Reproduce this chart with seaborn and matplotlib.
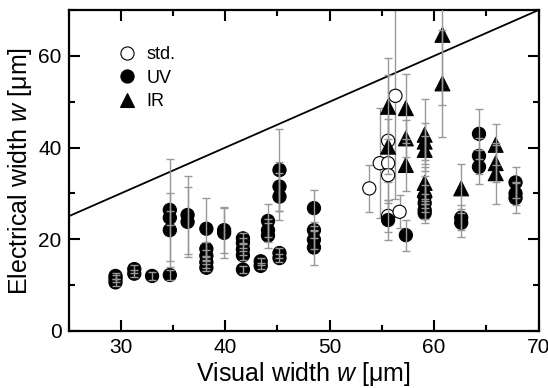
import numpy as np
import pandas as pd
import matplotlib
matplotlib.use("Agg")
import matplotlib.pyplot as plt
from matplotlib.ticker import MultipleLocator
import seaborn as sns

sns.set_theme(style="white")
plt.rcParams["font.family"] = ["Liberation Sans", "DejaVu Sans"]
plt.rcParams["mathtext.fontset"] = "custom"
plt.rcParams["mathtext.rm"] = "Liberation Sans"
plt.rcParams["mathtext.it"] = "Liberation Sans:italic"
plt.rcParams["text.color"] = "black"
plt.rcParams["axes.labelcolor"] = "black"

# ---- data ----
std_x = [53.8, 54.8, 55.6, 55.6, 55.6, 55.6, 56.3, 56.7]
std_y = [31.1, 36.6, 36.6, 41.5, 34.0, 25.1, 51.3, 26.0]
std_e = [5.2, 12.0, 4.0, 18.0, 6.0, 3.5, 22.5, 3.6]

uv_x = [29.5, 29.5, 29.5, 31.3, 31.3, 33.0,
        34.7, 34.7, 34.7, 34.7, 36.4, 36.4,
        38.2, 38.2, 38.2, 38.2, 38.2, 39.9, 39.9,
        41.7, 41.7, 41.7, 41.7, 41.7, 43.4, 43.4,
        44.1, 44.1, 44.1, 45.2, 45.2, 45.2, 45.2, 45.2,
        48.5, 48.5, 48.5, 48.5,
        55.6, 57.3, 59.1, 59.1, 59.1, 59.1, 62.6, 62.6,
        64.3, 64.3, 64.3, 67.8, 67.8, 67.8]
uv_y = [10.6, 11.4, 12.0, 12.5, 13.5, 12.0,
        12.2, 26.4, 24.7, 22.0, 25.3, 23.8,
        22.3, 17.9, 16.4, 15.0, 13.8, 22.0, 21.4,
        20.2, 19.2, 17.8, 16.5, 13.4, 15.2, 14.2,
        24.0, 22.0, 20.8, 35.1, 31.5, 29.3, 17.0, 15.9,
        26.8, 22.0, 19.9, 18.2,
        24.2, 20.9, 29.3, 27.9, 26.4, 25.7, 24.7, 23.6,
        43.0, 38.2, 35.8, 32.4, 30.0, 29.0]
uv_e = [0.8, 0.8, 0.7, 0.8, 0.9, 0.8,
        1.0, 11.1, 1.5, 8.0, 8.5, 7.6,
        6.8, 1.5, 1.2, 1.2, 0.8, 5.1, 5.5,
        1.2, 1.0, 1.3, 1.0, 0.8, 0.8, 0.7,
        3.6, 2.5, 2.7, 9.0, 5.4, 5.1, 1.0, 0.9,
        4.0, 1.8, 2.0, 3.9,
        4.3, 3.4, 2.5, 2.0, 2.0, 2.1, 2.7, 3.0,
        5.5, 4.0, 3.7, 3.4, 2.5, 3.3]

ir_x = [55.6, 55.6, 57.3, 57.3, 57.3, 59.1, 59.1, 59.1, 59.1, 59.1,
        60.8, 60.8, 62.6, 65.9, 65.9, 65.9]
ir_y = [48.9, 40.2, 48.6, 42.0, 36.2, 42.8, 41.3, 39.5, 32.3, 30.8,
        64.6, 54.0, 31.1, 40.6, 36.6, 34.4]
ir_e = [7.0, 6.0, 7.5, 4.0, 5.6, 7.8, 4.0, 3.0, 3.5, 3.0,
        15.3, 11.6, 5.3, 4.5, 4.0, 6.7]

line_x = [25, 70]
line_y = [25, 70]

series = ["std.", "UV", "IR"]

df = pd.concat([
    pd.DataFrame({"x": std_x, "y": std_y, "e": std_e, "type": "std."}),
    pd.DataFrame({"x": uv_x, "y": uv_y, "e": uv_e, "type": "UV"}),
    pd.DataFrame({"x": ir_x, "y": ir_y, "e": ir_e, "type": "IR"}),
], ignore_index=True)

fig = plt.figure(figsize=(5.48, 3.88), dpi=100)
ax = fig.add_axes([0.125, 0.147, 0.8577, 0.827])

sns.lineplot(x=line_x, y=line_y, ax=ax, color="black", lw=1.3, zorder=1)

ecol = "#999999"
s = df[df.type == "std."]
ax.errorbar(s.x, s.y, yerr=s.e, fmt="none", ecolor=ecol, elinewidth=1.0,
            capsize=3, capthick=1.0, zorder=2)

sns.scatterplot(data=df, x="x", y="y", hue="type", style="type", size="type",
                hue_order=series, style_order=series, size_order=series,
                palette={"std.": "white", "UV": "black", "IR": "black"},
                markers={"std.": "o", "UV": "o", "IR": "^"},
                sizes={"std.": 90, "UV": 90, "IR": 115},
                edgecolor="black", linewidth=0.8, ax=ax, zorder=3)

for t in ["UV", "IR"]:
    d = df[df.type == t]
    ax.errorbar(d.x, d.y, yerr=d.e, fmt="none", ecolor=ecol, elinewidth=1.0,
                capsize=3, capthick=1.0, zorder=4)

ax.set_xlim(25, 70)
ax.set_ylim(0, 70)
ax.xaxis.set_major_locator(MultipleLocator(10))
ax.xaxis.set_minor_locator(MultipleLocator(5))
ax.yaxis.set_major_locator(MultipleLocator(20))
ax.yaxis.set_minor_locator(MultipleLocator(10))
ax.set_xticks([30, 40, 50, 60, 70])
ax.tick_params(which="both", direction="in", top=True, right=True,
               bottom=True, left=True, width=1.5, labelsize=15, pad=5,
               colors="black")
ax.tick_params(which="major", length=8)
ax.tick_params(which="minor", length=4)
for sp in ax.spines.values():
    sp.set_linewidth(1.6)
    sp.set_color("black")

ax.set_xlabel("Visual width $w$ [μm]", fontsize=18, labelpad=2)
ax.set_ylabel("Electrical width $w$ [μm]", fontsize=18, labelpad=3)

h, l = ax.get_legend_handles_labels()
leg = ax.legend(h, l, loc="upper left", bbox_to_anchor=(0.07, 0.91),
                frameon=False, fontsize=13, handletextpad=0.1,
                labelspacing=0.35, borderaxespad=0, markerscale=1.0)

fig.savefig("out.png", dpi=100)
